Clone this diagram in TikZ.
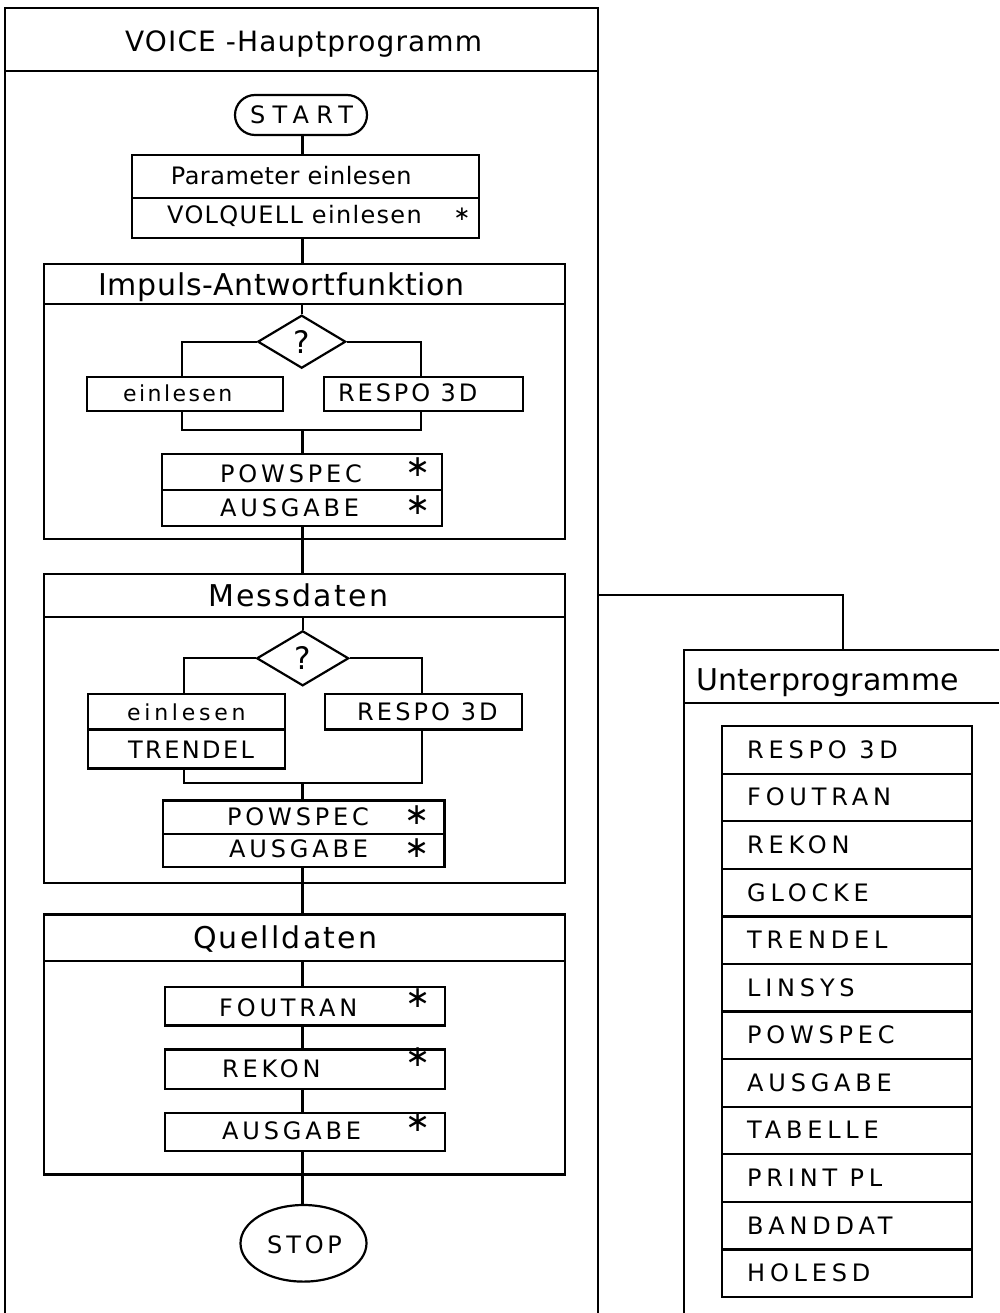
\documentclass[tikz,border=0pt]{standalone}
\usepackage{fontspec}
\setmainfont{DejaVu Sans}
\usetikzlibrary{shapes.geometric,shapes.misc}

\tikzset{
  pen/.style={line width=2.2pt},
  cell/.style={draw, pen, rectangle, inner sep=0pt, anchor=north west},
  tx/.style 2 args={anchor=base west, inner sep=0pt,
    font=\fontsize{#1}{#1}\selectfont\addfontfeature{LetterSpace=#2}},
  star/.style={inner sep=0pt, font=\fontsize{30}{30}\selectfont},
  smallstar/.style={inner sep=0pt, font=\fontsize{20}{20}\selectfont},
  decision/.style={draw, pen, diamond, inner sep=0pt,
    font=\fontsize{31}{31}\selectfont},
}

\begin{document}
\begin{tikzpicture}[x=1pt,y=-1pt]
\useasboundingbox (0,0) rectangle (999,1313);
\fill[white] (0,0) rectangle (999,1313);
\coordinate (spine) at (302.5,0);

% ---------------- main program frame (open at the bottom)
\draw[pen] (5,1313) -- (5,8) -- (598,8) -- (598,1313);
\draw[pen] (5,71) -- (598,71);
\node[tx={28}{4}] (maintitle) at (125,52) {VOICE -Hauptprogramm};

% start and initial input
\node[draw, pen, rounded rectangle, minimum width=132pt, minimum height=40pt,
      inner sep=0pt] (start) at (301,115) {};
\node[tx={24}{30}] (start-t) at (250,123.3) {START};
\node[cell, minimum width=347pt, minimum height=42.7pt] (param1) at (131,154) {};
\node[cell, minimum width=347pt, minimum height=40pt] (param2) at (131,196.7) {};
\node[tx={24}{2}] (param1-t) at (170.7,185) {Parameter einlesen};
\node[tx={24}{5.5}] (param2-t) at (167,223.5) {VOLQUELL einlesen};
\node[smallstar] (param2-s) at (462,214) {∗};
\draw[pen] (start.south -| spine) -- (param1.north -| spine);

% ---------------- Impuls-Antwortfunktion
\node[cell, minimum width=521.3pt, minimum height=275.3pt] (imp) at (42.7,262.7) {};
\node[cell, minimum width=521.3pt, minimum height=40.3pt] (imphead) at (42.7,262.7) {};
\node[tx={30}{2.3}] (imp-t) at (98,295) {Impuls-Antwortfunktion};
\draw[pen] (param2.south -| spine) -- (imp.north -| spine);

\node[decision, minimum width=88pt, minimum height=53pt] (dec1) at (301.7,341.7) {?};
\node[cell, minimum width=195.7pt, minimum height=34pt] (ein1) at (86,376) {};
\node[cell, minimum width=199pt, minimum height=34pt] (respo1) at (322.7,376) {};
\node[tx={22}{11}] (ein1-t) at (123,401.7) {einlesen};
\node[tx={24}{12}] (respo1-t) at (338,401.7) {RESPO 3D};
\coordinate (b1l) at (181.7,0);
\coordinate (b1r) at (420.7,0);
\coordinate (m1) at (0,430);
\draw[pen] (imphead.south -| dec1) -- (dec1.north);
\draw[pen] (dec1.west) -| (ein1.north -| b1l);
\draw[pen] (dec1.east) -| (respo1.north -| b1r);
\draw[pen] (ein1.south -| b1l) -- (m1 -| b1l) -- (m1 -| b1r) -- (respo1.south -| b1r);

\node[cell, minimum width=279.7pt, minimum height=36pt] (pow1) at (161,453) {};
\node[cell, minimum width=279.7pt, minimum height=36pt] (aus1) at (161,489) {};
\node[tx={24}{16}] (pow1-t) at (220,482.7) {POWSPEC};
\node[tx={24}{16}] (aus1-t) at (220,516.7) {AUSGABE};
\node[star] (pow1-s) at (418,467) {∗};
\node[star] (aus1-s) at (418,505) {∗};
\draw[pen] (m1 -| spine) -- (pow1.north -| spine);

% ---------------- Messdaten
\node[cell, minimum width=521.3pt, minimum height=309pt] (mess) at (42.7,572.7) {};
\node[cell, minimum width=521.3pt, minimum height=43.3pt] (messhead) at (42.7,572.7) {};
\node[tx={30}{7.4}] (mess-t) at (208,606.7) {Messdaten};
\draw[pen] (aus1.south -| spine) -- (mess.north -| spine);

\node[decision, minimum width=92pt, minimum height=55pt] (dec2) at (302.7,658.3) {?};
\node[cell, minimum width=197.3pt, minimum height=35.6pt] (ein2) at (86.7,692.7) {};
\node[cell, minimum width=197.3pt, minimum height=39pt] (trend2) at (86.7,728.3) {};
\node[cell, minimum width=196.7pt, minimum height=35.6pt] (respo2) at (324,692.7) {};
\node[tx={22}{17}] (ein2-t) at (127,720) {einlesen};
\node[tx={24}{10}] (trend2-t) at (128,758.3) {TRENDEL};
\node[tx={24}{13}] (respo2-t) at (357,720) {RESPO 3D};
\coordinate (b2l) at (184,0);
\coordinate (b2r) at (421.7,0);
\coordinate (m2) at (0,782.7);
\draw[pen] (messhead.south -| dec2) -- (dec2.north);
\draw[pen] (dec2.west) -| (ein2.north -| b2l);
\draw[pen] (dec2.east) -| (respo2.north -| b2r);
\draw[pen] (trend2.south -| b2l) -- (m2 -| b2l) -- (m2 -| b2r) -- (respo2.south -| b2r);

\node[cell, minimum width=281.6pt, minimum height=33.4pt] (pow2) at (161.7,799.3) {};
\node[cell, minimum width=281.6pt, minimum height=33.3pt] (aus2) at (161.7,832.7) {};
\node[tx={24}{16}] (pow2-t) at (227,825) {POWSPEC};
\node[tx={24}{16}] (aus2-t) at (229,857.3) {AUSGABE};
\node[star] (pow2-s) at (417,815) {∗};
\node[star] (aus2-s) at (417,848) {∗};
\draw[pen] (m2 -| spine) -- (pow2.north -| spine);

% ---------------- Quelldaten
\node[cell, minimum width=521.3pt, minimum height=260pt] (quell) at (42.7,913.3) {};
\node[cell, minimum width=521.3pt, minimum height=46.7pt] (quellhead) at (42.7,913.3) {};
\node[tx={30}{7.3}] (quell-t) at (193,948.3) {Quelldaten};
\draw[pen] (aus2.south -| spine) -- (quell.north -| spine);

\node[cell, minimum width=280pt, minimum height=38.3pt] (fou3) at (164,986) {};
\node[cell, minimum width=280pt, minimum height=39.4pt] (rek3) at (164,1048.3) {};
\node[cell, minimum width=280pt, minimum height=38.3pt] (aus3) at (164,1111.7) {};
\node[tx={24}{16}] (fou3-t) at (219,1016) {FOUTRAN};
\node[tx={24}{16}] (rek3-t) at (222,1077.3) {REKON};
\node[tx={24}{16}] (aus3-t) at (222,1139.3) {AUSGABE};
\node[star] (fou3-s) at (418,998) {∗};
\node[star] (rek3-s) at (418,1057) {∗};
\node[star] (aus3-s) at (418,1122) {∗};
\draw[pen] (quellhead.south -| spine) -- (fou3.north -| spine);
\draw[pen] (fou3.south -| spine) -- (rek3.north -| spine);
\draw[pen] (rek3.south -| spine) -- (aus3.north -| spine);

\node[draw, pen, ellipse, minimum width=126pt, minimum height=76.6pt,
      inner sep=0pt] (stop) at (303.5,1243.3) {};
\node[tx={24}{16}] (stop-t) at (267,1253.3) {STOP};
\draw[pen] (aus3.south -| spine) -- (stop.north -| spine);

% ---------------- subroutine frame (open at the bottom and right)
\draw[pen] (684,1313) -- (684,650) -- (999,650);
\draw[pen] (684,703) -- (999,703);
\node[tx={30}{1}] (unter-t) at (696,690) {Unterprogramme};
\coordinate (mainright) at (598,595);
\coordinate (untertop) at (843,650);
\draw[pen] (mainright) -| (untertop);

\foreach \name [count=\i from 0] in
  {RESPO 3D,FOUTRAN,REKON,GLOCKE,TRENDEL,LINSYS,POWSPEC,AUSGABE,TABELLE,PRINT PL,BANDDAT,HOLESD}
{
  \node[cell, minimum width=250pt, minimum height=47.58pt] (sub\i) at (721,{725+47.58*\i}) {};
  \node[tx={24}{20}] (sub\i-t) at (747,{758.3+47.58*\i}) {\name};
}
\end{tikzpicture}
\end{document}
